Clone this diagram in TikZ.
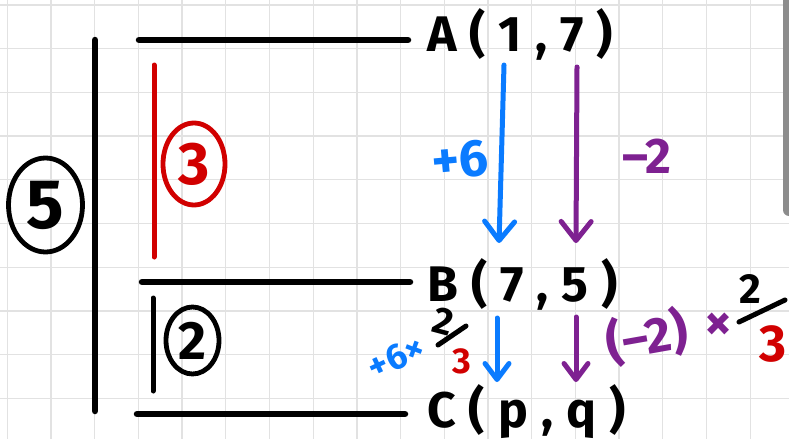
\documentclass[tikz,border=0pt]{standalone}
\usepackage{fontspec}
\setmainfont{Fira Sans}
\usetikzlibrary{arrows.meta,shapes.geometric}
\definecolor{hblue}{HTML}{0A7BFF}
\definecolor{hpurple}{HTML}{7E2191}
\definecolor{hred}{HTML}{D10000}
\definecolor{gridc}{HTML}{E2E2E2}
\definecolor{barc}{HTML}{8C8C8C}
\newcommand\gp{\hspace{13pt}}
\begin{document}
\begin{tikzpicture}[x=1pt,y=-1pt,
  pen/.style={line width=6.5pt,line cap=round},
  thinpen/.style={line width=5pt,line cap=round},
  lbl/.style={font=\fontsize{50}{50}\selectfont\bfseries,inner sep=0pt,anchor=base west},
  circd/.style={ellipse,draw,line width=4.8pt,inner sep=0pt,font=\bfseries},
  harrow/.style={line width=5pt,line cap=round,line join=round,-{Straight Barb[length=19pt,width=30pt,round]}},
  sarrow/.style={line width=5pt,line cap=round,line join=round,-{Straight Barb[length=16pt,width=24pt,round]}},
  note/.style={inner sep=0pt,font=\bfseries}]
% background and grid
\fill[white] (0,0) rectangle (789,439);
\useasboundingbox (0,0) rectangle (789,439);
\foreach \k in {0,...,17} \draw[gridc,line width=1.3pt] ({7.3+43.7*\k},0) -- ({7.3+43.7*\k},439);
\foreach \k in {0,...,9} \draw[gridc,line width=1.3pt] (0,{5+43.7*\k}) -- (789,{5+43.7*\k});
\fill[barc] (789,0) -- (783,0) -- (783,210) to[out=-90,in=180] (789,216) -- cycle;
% bracket lines
\draw[pen] (95,40) -- (95,411);
\draw[pen] (139,40) -- (408,40);
\draw[pen] (142,282) -- (410,282);
\draw[pen] (137,414) -- (405,414);
\draw[thinpen,hred] (154,65) -- (154,257);
\draw[thinpen] (153,298) -- (153,391);
% circled numbers
\node[circd,minimum width=74pt,minimum height=94pt,font=\fontsize{70}{70}\selectfont\bfseries] (five) at (45.5,205) {5};
\node[circd,hred,minimum width=62pt,minimum height=82pt,font=\fontsize{60}{60}\selectfont\bfseries] (three) at (194,164) {3};
\node[circd,minimum width=53pt,minimum height=67pt,font=\fontsize{54}{54}\selectfont\bfseries] (two) at (192.5,340.5) {2};
% point labels
\node[lbl] (A) at (427,51) {A\gp(\gp1\gp,\gp7\gp)};
\node[lbl] (B) at (427,301) {B\gp(\gp7\gp,\gp5\gp)};
\node[lbl] (C) at (427,427) {C\gp(\gp p\gp,\gp q\gp)};
% arrows A -> B
\coordinate (ab1s) at (504,65);
\coordinate (ab1e) at (499,243);
\coordinate (ab2s) at (577,67);
\coordinate (ab2e) at (576,243);
\draw[harrow,hblue] (ab1s) -- (ab1e);
\draw[harrow,hpurple] (ab2s) -- (ab2e);
% arrows B -> C
\coordinate (bc1s) at (497,318);
\coordinate (bc1e) at (497,382);
\coordinate (bc2s) at (576,317);
\coordinate (bc2e) at (576,382);
\draw[sarrow,hblue] (bc1s) -- (bc1e);
\draw[sarrow,hpurple] (bc2s) -- (bc2e);
% annotations
\node[note,hblue,font=\fontsize{52}{52}\selectfont\bfseries,rotate=5] (p6) at (460,160) {+6};
\node[note,hpurple,font=\fontsize{50}{50}\selectfont\bfseries] (m2) at (647,156) {–2};
\node[note,hblue,font=\fontsize{36}{36}\selectfont\bfseries,rotate=25] (p6x) at (396,357) {+6×};
\node[note,font=\fontsize{38}{38}\selectfont\bfseries,rotate=-15] (n1) at (443,321) {2};
\coordinate (s1a) at (438,345);
\coordinate (s1b) at (466,326);
\draw[thinpen] (s1a) -- (s1b);
\node[note,hred,font=\fontsize{36}{36}\selectfont\bfseries] (d1) at (462,361) {3};
\node[note,hpurple,font=\fontsize{50}{50}\selectfont\bfseries,rotate=10] (m2p) at (647,337) {(–2)};
\node[note,hpurple,font=\fontsize{54}{54}\selectfont\bfseries] (x2) at (719,327) {×};
\node[note,font=\fontsize{42}{42}\selectfont\bfseries] (n2) at (750,289) {2};
\coordinate (s2a) at (739,322);
\coordinate (s2b) at (785,300);
\draw[thinpen] (s2a) -- (s2b);
\node[note,hred,font=\fontsize{52}{52}\selectfont\bfseries] (d2) at (773,344) {3};
\end{tikzpicture}
\end{document}
